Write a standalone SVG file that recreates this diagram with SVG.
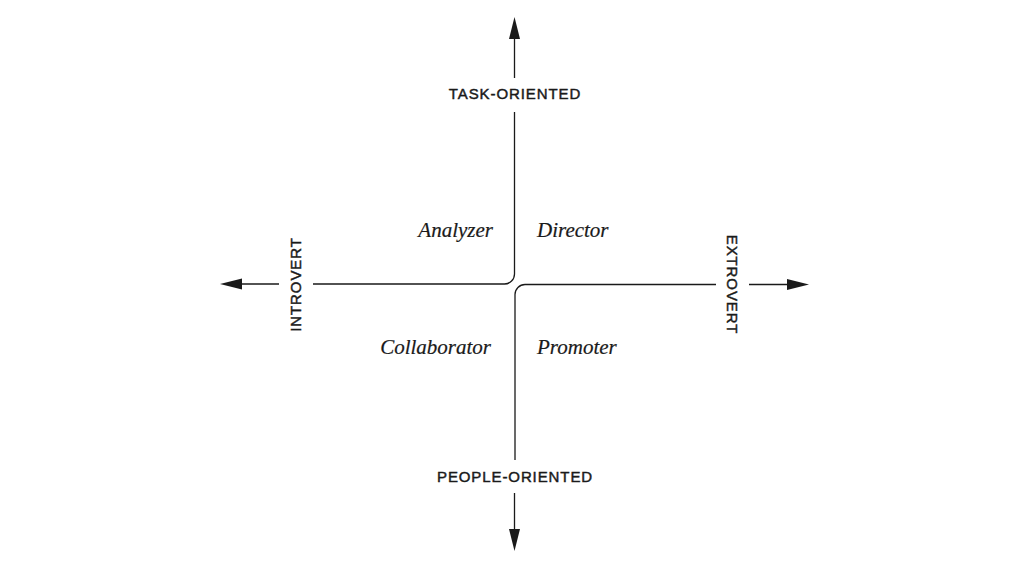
<svg xmlns="http://www.w3.org/2000/svg" width="1012" height="569" viewBox="0 0 1012 569">
<defs>
<style>
.ax{fill:none;stroke:#1a1a1a;stroke-width:1.3}
.hd{fill:#1a1a1a}
.lbl{font-family:"Liberation Sans",Arial,sans-serif;font-size:15px;letter-spacing:0.9px;fill:#1a1a1a;stroke:#1a1a1a;stroke-width:0.45px;text-anchor:middle}
.q{font-family:"Liberation Serif","Times New Roman",serif;font-style:italic;font-size:21px;fill:#1a1a1a;stroke:#1a1a1a;stroke-width:0.2px}
</style>
</defs>
<rect width="1012" height="569" fill="#ffffff"/>
<g id="connectors">
<path class="ax" d="M514.5 38 V78"/>
<path class="ax" d="M514.5 112 V274 A10 10 0 0 1 504.5 284 H313"/>
<path class="ax" d="M279 284 H241"/>
<path class="ax" d="M716 284.5 H525 A10 10 0 0 0 515 294.5 V460"/>
<path class="ax" d="M749 284.5 H789"/>
<path class="ax" d="M514.5 493 V530"/>
<polygon class="hd" points="514.5,17 509,39 520,39"/>
<polygon class="hd" points="220,284 242,278.5 242,289.5"/>
<polygon class="hd" points="809,284.5 787,279 787,290"/>
<polygon class="hd" points="514.5,551 509,529 520,529"/>
</g>
<g id="task-oriented"><text class="lbl" x="515" y="99">TASK-ORIENTED</text></g>
<g id="people-oriented"><text class="lbl" x="515" y="482">PEOPLE-ORIENTED</text></g>
<g id="introvert"><text class="lbl" transform="translate(301,284.5) rotate(-90)">INTROVERT</text></g>
<g id="extrovert"><text class="lbl" transform="translate(726.5,284.5) rotate(90)">EXTROVERT</text></g>
<g id="analyzer"><text class="q" x="493" y="237" text-anchor="end">Analyzer</text></g>
<g id="director"><text class="q" x="537" y="237">Director</text></g>
<g id="collaborator"><text class="q" x="491" y="354" text-anchor="end">Collaborator</text></g>
<g id="promoter"><text class="q" x="537" y="354">Promoter</text></g>
</svg>
